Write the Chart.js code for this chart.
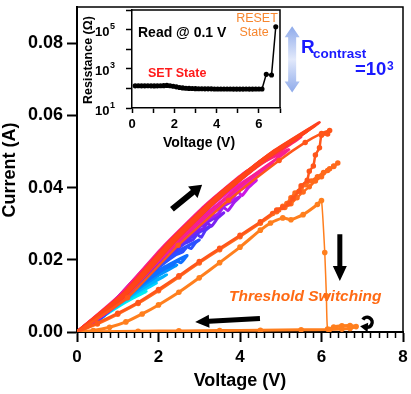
<!DOCTYPE html>
<html>
<head>
<meta charset="utf-8">
<script src="https://cdn.jsdelivr.net/npm/chart.js@4.4.1/dist/chart.umd.min.js"></script>
<style>
  html, body { margin: 0; padding: 0; background: #fff; }
  #wrap { position: relative; width: 411px; height: 394px; }
  #main { position: absolute; left: 0; top: 0; }
  #inset { position: absolute; left: 80px; top: 0; }
</style>
</head>
<body>
<div id="wrap">
  <canvas id="main" width="411" height="394"></canvas>
  <canvas id="inset" width="210" height="155"></canvas>
</div>
<script>
// ---- main I-V sweeps (voltage V, current A), out and back ----
const sweepColors = ['#00eef0', '#00d4ff', '#00b2ff', '#0092ff', '#1070ff', '#2c50ff', '#5234fa', '#7a22f2',
                     '#a41cee', '#cc18e4', '#ea1cc4', '#f8208e', '#ff2a62', '#ff2448', '#ff3c22', '#ff4418'];
const sweepV = [
  [0, 0.34, 0.68, 1.02, 1.36, 1.7, 1.36, 1.02, 0.68, 0.34, 0],
  [0, 0.39, 0.78, 1.17, 1.56, 1.95, 1.56, 1.17, 0.78, 0.39, 0],
  [0, 0.44, 0.88, 1.32, 1.76, 2.2, 1.76, 1.32, 0.88, 0.44, 0],
  [0, 0.49, 0.98, 1.47, 1.96, 2.45, 1.96, 1.47, 0.98, 0.49, 0],
  [0, 0.54, 1.08, 1.62, 2.16, 2.35, 2.45, 2.55, 2.7, 2.16, 1.62, 1.08, 0.54, 0],
  [0, 0.6, 1.2, 1.8, 2.4, 2.6, 2.7, 2.8, 2.9, 3.0, 2.4, 1.8, 1.2, 0.6, 0],
  [0, 0.66, 1.32, 1.98, 2.64, 2.85, 2.95, 3.05, 3.15, 3.3, 2.64, 1.98, 1.32, 0.66, 0],
  [0, 0.72, 1.44, 2.16, 2.88, 3.1, 3.2, 3.3, 3.45, 3.6, 2.88, 2.16, 1.44, 0.72, 0],
  [0, 0.8, 1.6, 2.4, 3.2, 3.45, 3.6, 3.7, 3.85, 4.0, 3.2, 2.4, 1.6, 0.8, 0],
  [0, 0.88, 1.76, 2.64, 3.52, 3.8, 3.95, 4.05, 4.2, 4.4, 3.52, 2.64, 1.76, 0.88, 0],
  [0, 0.96, 1.92, 2.88, 3.84, 4.8, 3.84, 2.88, 1.92, 0.96, 0],
  [0, 1.04, 2.08, 3.12, 4.16, 5.2, 4.16, 3.12, 2.08, 1.04, 0],
  [0, 1.1, 2.2, 3.3, 4.4, 5.5, 4.4, 3.3, 2.2, 1.1, 0],
  [0, 1.13, 2.26, 3.39, 4.52, 5.65, 4.52, 3.39, 2.26, 1.13, 0],
  [0, 1.19, 2.38, 3.57, 4.76, 5.95, 4.76, 3.57, 2.38, 1.19, 0],
  [0, 1.17, 2.34, 3.51, 4.68, 5.85, 4.68, 3.51, 2.34, 1.17, 0]
];
const sweepI = [
  [0, 0.0018, 0.0046, 0.0071, 0.0093, 0.0112, 0.0096, 0.0075, 0.0050, 0.0021, 0],
  [0, 0.0022, 0.0055, 0.0085, 0.0112, 0.0135, 0.0115, 0.0090, 0.0061, 0.0026, 0],
  [0, 0.0025, 0.0065, 0.0100, 0.0131, 0.0158, 0.0135, 0.0106, 0.0071, 0.0030, 0],
  [0, 0.0030, 0.0076, 0.0117, 0.0154, 0.0185, 0.0158, 0.0124, 0.0083, 0.0035, 0],
  [0, 0.0034, 0.0087, 0.0134, 0.0176, 0.0185, 0.0196, 0.0192, 0.0212, 0.0181, 0.0142, 0.0095, 0.0040, 0],
  [0, 0.0041, 0.0105, 0.0161, 0.0212, 0.0222, 0.0236, 0.0231, 0.0246, 0.0255, 0.0218, 0.0171, 0.0115, 0.0048, 0],
  [0, 0.0047, 0.0121, 0.0186, 0.0245, 0.0256, 0.0270, 0.0262, 0.0281, 0.0295, 0.0252, 0.0198, 0.0133, 0.0056, 0],
  [0, 0.0053, 0.0135, 0.0208, 0.0274, 0.0287, 0.0301, 0.0293, 0.0315, 0.0330, 0.0282, 0.0221, 0.0149, 0.0063, 0],
  [0, 0.0060, 0.0154, 0.0236, 0.0311, 0.0326, 0.0345, 0.0336, 0.0358, 0.0375, 0.0321, 0.0251, 0.0169, 0.0071, 0],
  [0, 0.0067, 0.0172, 0.0265, 0.0349, 0.0366, 0.0388, 0.0378, 0.0399, 0.0420, 0.0359, 0.0281, 0.0189, 0.0080, 0],
  [0, 0.0074, 0.0191, 0.0293, 0.0386, 0.0465, 0.0398, 0.0312, 0.0209, 0.0088, 0],
  [0, 0.0081, 0.0207, 0.0318, 0.0419, 0.0505, 0.0445, 0.0348, 0.0232, 0.0101, 0],
  [0, 0.0095, 0.0232, 0.0354, 0.0456, 0.0540, 0.0462, 0.0362, 0.0243, 0.0103, 0],
  [0, 0.0097, 0.0239, 0.0364, 0.0470, 0.0556, 0.0475, 0.0373, 0.0250, 0.0106, 0],
  [0, 0.0102, 0.0249, 0.0380, 0.0490, 0.0580, 0.0496, 0.0389, 0.0261, 0.0110, 0],
  [0, 0.0100, 0.0246, 0.0375, 0.0483, 0.0572, 0.0489, 0.0383, 0.0257, 0.0109, 0]
];

// orange sweeps near RESET
const orangeAV = [0, 1.24, 2.48, 3.72, 4.96, 5.6, 6.0, 6.2, 6.15, 6.0, 5.95, 5.85, 5.8, 5.7, 5.65, 5.5, 5.45, 5.3, 5.2, 5.05, 4.9,
                  4.5, 4.0, 3.5, 3.0, 2.5, 2.0, 1.5, 1.0, 0.5, 0];
const orangeAI = [0, 0.0095, 0.0240, 0.0365, 0.0475, 0.0525, 0.0550, 0.0558, 0.0548, 0.0545, 0.0510, 0.0490, 0.0460, 0.0445, 0.0420,
                  0.0405, 0.0390, 0.0370, 0.0355, 0.0345, 0.0338, 0.0305, 0.0268, 0.0232, 0.0195, 0.0156, 0.0118, 0.0082, 0.0052, 0.0025, 0];
const orangeBV = [0, 0.5, 1.0, 1.5, 2.0, 2.5, 3.0, 3.5, 4.0, 4.5, 4.9, 5.05, 5.15, 5.25, 5.35, 5.5, 5.6, 5.75, 5.9, 6.05, 6.2, 6.3, 6.4,
                  6.3, 6.15, 6.0, 5.85, 5.7, 5.55, 5.4, 5.25, 5.1, 4.95, 4.8];
const orangeBI = [0, 0.0022, 0.0049, 0.0079, 0.0114, 0.0152, 0.0191, 0.0228, 0.0264, 0.0301, 0.0333, 0.0348, 0.0356, 0.0372, 0.0385,
                  0.0398, 0.0408, 0.0418, 0.0430, 0.0442, 0.0452, 0.0460, 0.0468, 0.0458, 0.0447, 0.0430, 0.0418, 0.0402, 0.0388,
                  0.0372, 0.0355, 0.0345, 0.0338, 0.0328];
// threshold switching sweep
const orangeCV = [0, 0.4, 0.8, 1.2, 1.6, 2.0, 2.5, 3.0, 3.5, 4.0, 4.5, 4.75, 5.05, 5.25, 5.55, 5.9, 6.0, 6.08, 6.12, 6.15,
                  6.3, 6.5, 6.7, 6.85, 6.7, 6.5, 6.2, 5.5, 4.5, 3.5, 2.5, 1.5, 0.5, 0];
const orangeCI = [0, 0.0004, 0.0013, 0.0028, 0.0050, 0.0075, 0.0110, 0.0150, 0.0192, 0.0235, 0.0282, 0.0302, 0.0316, 0.0311, 0.0325,
                  0.0353, 0.0364, 0.0220, 0.0100, 0.0008, 0.0014, 0.0017, 0.0018, 0.0015, 0.0010, 0.0008, 0.0007, 0.0006, 0.0005,
                  0.0004, 0.0003, 0.0002, 0.0001, 0];

// ---- inset: resistance read at 0.1 V ----
const insetV = [0.15, 0.3, 0.45, 0.6, 0.75, 0.9, 1.05, 1.2, 1.35, 1.5, 1.65, 1.8, 1.95, 2.1, 2.25, 2.4, 2.55, 2.7, 2.85, 3.0,
                3.15, 3.3, 3.45, 3.6, 3.75, 3.9, 4.05, 4.2, 4.35, 4.5, 4.65, 4.8, 4.95, 5.1, 5.25, 5.4, 5.55, 5.7, 5.85, 6.0,
                6.15, 6.35, 6.6, 6.8];
const insetR = [135, 136, 135, 135, 136, 135, 134, 135, 136, 138, 142, 136, 128, 120, 112, 106, 102, 100, 98, 97,
                96, 96, 95, 95, 95, 94, 94, 94, 93, 93, 93, 92, 92, 92, 92, 93, 92, 92, 93, 93,
                94, 520, 480, 140000];
const insetYTicks = [10, 100, 1000, 10000, 100000, 1000000];
const insetYLabels = [[10, '1'], [1000, '3'], [100000, '5']];

const FONT = '"Liberation Sans", Arial, Helvetica, sans-serif';
Chart.defaults.color = '#000';

function pts(xs, ys) { return xs.map((v, k) => ({ x: v, y: ys[k] })); }

const datasets = [];
sweepV.forEach((xs, i) => {
  datasets.push({ data: pts(xs, sweepI[i]), borderColor: sweepColors[i], borderWidth: 3,
                  pointRadius: 0, tension: 0.15, order: -i });
});
datasets.push({ data: pts(orangeCV, orangeCI), borderColor: '#ff7f1e', backgroundColor: '#ff7f1e', borderWidth: 3,
                pointRadius: 1.3, tension: 0.15, order: -20,
                segment: { borderWidth: c => (c.p0DataIndex >= 16 && c.p0DataIndex < 19) ? 1.5 : 3 } });
datasets.push({ data: pts(orangeBV, orangeBI), borderColor: '#ff6a1c', backgroundColor: '#ff6a1c', borderWidth: 2.5,
                pointRadius: 1.5, tension: 0.15, order: -21 });
datasets.push({ data: pts(orangeAV, orangeAI), borderColor: '#ff561a', backgroundColor: '#ff561a', borderWidth: 2.5,
                pointRadius: 1.5, tension: 0.15, order: -22 });

function arrow(ctx, x1, y1, x2, y2, shaft, headW, headL) {
  const ang = Math.atan2(y2 - y1, x2 - x1), len = Math.hypot(x2 - x1, y2 - y1);
  ctx.save();
  ctx.translate(x1, y1); ctx.rotate(ang);
  ctx.beginPath();
  ctx.moveTo(0, -shaft / 2); ctx.lineTo(len - headL, -shaft / 2); ctx.lineTo(len - headL, -headW / 2);
  ctx.lineTo(len, 0); ctx.lineTo(len - headL, headW / 2); ctx.lineTo(len - headL, shaft / 2); ctx.lineTo(0, shaft / 2);
  ctx.closePath(); ctx.fill();
  ctx.restore();
}

const mainDecor = {
  id: 'mainDecor',
  afterDraw(chart) {
    const { ctx, chartArea: a, scales: { x, y } } = chart;
    ctx.save();
    ctx.strokeStyle = '#000';
    ctx.lineWidth = 1.5;
    ctx.beginPath(); ctx.moveTo(a.left, a.top); ctx.lineTo(a.right, a.top); ctx.lineTo(a.right, a.bottom); ctx.stroke();
    // minor ticks
    for (let i = 1; i < 40; i++) {
      if (i % 10 === 0) continue;
      const px = Math.round(x.getPixelForValue(i * 0.2)) + 0.5;
      ctx.beginPath(); ctx.moveTo(px, a.bottom); ctx.lineTo(px, a.bottom + 6); ctx.stroke();
    }
    // arrows
    ctx.fillStyle = '#000';
    arrow(ctx, x.getPixelForValue(2.33), y.getPixelForValue(0.034), x.getPixelForValue(3.07), y.getPixelForValue(0.0408), 6, 15, 12);
    arrow(ctx, x.getPixelForValue(6.45), y.getPixelForValue(0.0271), x.getPixelForValue(6.45), y.getPixelForValue(0.0141), 5, 14, 15);
    arrow(ctx, x.getPixelForValue(4.49), y.getPixelForValue(0.00375), x.getPixelForValue(2.9), y.getPixelForValue(0.0028), 5, 13, 14);
    // curly arrow
    const cx = x.getPixelForValue(7.12), cy = y.getPixelForValue(0.0027);
    ctx.lineWidth = 3.5;
    ctx.beginPath(); ctx.arc(cx, cy, 5, -2.6, 1.7); ctx.stroke();
    ctx.beginPath();
    ctx.moveTo(cx - 7, cy + 4); ctx.lineTo(cx + 1, cy + 0.5); ctx.lineTo(cx + 0.5, cy + 10); ctx.closePath(); ctx.fill();
    // R contrast double arrow
    const bx = x.getPixelForValue(5.28), t = y.getPixelForValue(0.0847), b = y.getPixelForValue(0.0663);
    const g = ctx.createLinearGradient(0, t, 0, b);
    g.addColorStop(0, '#8eaaea'); g.addColorStop(0.5, '#e2e9fb'); g.addColorStop(1, '#8eaaea');
    ctx.fillStyle = g;
    ctx.beginPath();
    ctx.moveTo(bx, t); ctx.lineTo(bx + 7.5, t + 11); ctx.lineTo(bx + 4, t + 11); ctx.lineTo(bx + 4, b - 11);
    ctx.lineTo(bx + 7.5, b - 11); ctx.lineTo(bx, b); ctx.lineTo(bx - 7.5, b - 11); ctx.lineTo(bx - 4, b - 11);
    ctx.lineTo(bx - 4, t + 11); ctx.lineTo(bx - 7.5, t + 11); ctx.closePath(); ctx.fill();
    // texts
    ctx.textBaseline = 'alphabetic';
    ctx.textAlign = 'left';
    ctx.fillStyle = '#1a1aff';
    ctx.font = 'bold 19px ' + FONT; ctx.fillText('R', 301, 53);
    ctx.font = 'bold 13.5px ' + FONT; ctx.fillText('contrast', 313, 58);
    ctx.font = 'bold 18.5px ' + FONT; ctx.fillText('=10', 355, 75);
    ctx.font = 'bold 12px ' + FONT; ctx.fillText('3', 387, 70);
    ctx.fillStyle = '#ff6a14';
    ctx.font = 'italic bold 15.5px ' + FONT; ctx.fillText('Threshold Switching', 229, 301);
    ctx.fillStyle = '#000';
    ctx.font = 'bold 18px ' + FONT;
    ctx.textAlign = 'center'; ctx.textBaseline = 'middle';
    ctx.fillText('Voltage (V)', 240, 381);
    ctx.save(); ctx.translate(10, 170); ctx.rotate(-Math.PI / 2); ctx.fillText('Current (A)', 0, 0); ctx.restore();
    ctx.restore();
  }
};

new Chart(document.getElementById('main'), {
  type: 'line',
  data: { datasets },
  options: {
    responsive: false, animation: false, devicePixelRatio: 1,
    layout: { padding: { top: 3, right: 8, left: 0, bottom: 0 } },
    plugins: { legend: { display: false }, tooltip: { enabled: false } },
    scales: {
      x: {
        type: 'linear', min: 0, max: 8,
        ticks: { stepSize: 2, padding: 5, maxRotation: 0, font: { family: FONT, size: 17, weight: 'bold' }, color: '#000' },
        grid: { drawOnChartArea: false, tickLength: 10, tickColor: '#000', tickWidth: 2 },
        border: { color: '#000', width: 2 },
        afterFit(s) { s.height = 62; s.paddingLeft = 0; s.paddingRight = 0; }
      },
      y: {
        min: 0, max: 0.09,
        ticks: { stepSize: 0.02, includeBounds: false, padding: 4, callback: v => v.toFixed(2),
                 font: { family: FONT, size: 18, weight: 'bold' }, color: '#000' },
        grid: { drawOnChartArea: false, tickLength: 10, tickColor: '#000', tickWidth: 2 },
        border: { color: '#000', width: 2 },
        afterFit(s) { s.width = 77; s.paddingTop = 0; s.paddingBottom = 0; }
      }
    }
  },
  plugins: [mainDecor]
});

const insetDecor = {
  id: 'insetDecor',
  afterDraw(chart) {
    const { ctx, chartArea: a, scales: { y } } = chart;
    ctx.save();
    ctx.strokeStyle = '#000'; ctx.lineWidth = 1.5;
    ctx.beginPath(); ctx.moveTo(a.left, a.top); ctx.lineTo(a.right, a.top); ctx.lineTo(a.right, a.bottom); ctx.stroke();
    ctx.fillStyle = '#000'; ctx.textAlign = 'right'; ctx.textBaseline = 'alphabetic';
    insetYLabels.forEach(([val, exp]) => {
      const py = y.getPixelForValue(val);
      ctx.font = 'bold 9px ' + FONT;
      ctx.fillText(exp, 35, py - 0.5);
      const w = ctx.measureText(exp).width;
      ctx.font = 'bold 13px ' + FONT;
      ctx.fillText('10', 35 - w - 0.5, py + 6.5);
    });
    ctx.textAlign = 'left';
    ctx.font = 'bold 14px ' + FONT; ctx.fillText('Read @ 0.1 V', 58, 37);
    ctx.fillStyle = '#ff1a1a';
    ctx.font = 'bold 12.5px ' + FONT; ctx.fillText('SET State', 68, 77);
    ctx.fillStyle = '#f7862e'; ctx.textAlign = 'center';
    ctx.font = '12.5px ' + FONT; ctx.fillText('RESET', 177, 22); ctx.fillText('State', 174, 36);
    ctx.fillStyle = '#000'; ctx.textBaseline = 'middle';
    ctx.font = 'bold 14px ' + FONT; ctx.fillText('Voltage (V)', 119, 143);
    ctx.font = 'bold 12.5px ' + FONT;
    ctx.save(); ctx.translate(9, 60); ctx.rotate(-Math.PI / 2); ctx.fillText('Resistance (\u03A9)', 0, 0); ctx.restore();
    ctx.restore();
  }
};

new Chart(document.getElementById('inset'), {
  type: 'line',
  data: { datasets: [{ data: pts(insetV, insetR), borderColor: '#000', backgroundColor: '#000', borderWidth: 1.5,
                       pointRadius: 1.8, tension: 0 }] },
  options: {
    responsive: false, animation: false, devicePixelRatio: 1,
    layout: { padding: { top: 10, right: 10, left: 0, bottom: 0 } },
    plugins: { legend: { display: false }, tooltip: { enabled: false } },
    scales: {
      x: {
        type: 'linear', min: 0, max: 7,
        ticks: { stepSize: 1, autoSkip: false, padding: 4, maxRotation: 0, callback: v => (v % 2 === 0 ? v : ''),
                 font: { family: FONT, size: 13, weight: 'bold' }, color: '#000' },
        grid: { drawOnChartArea: false, tickLength: 5, tickColor: '#000', tickWidth: 1.5 },
        border: { color: '#000', width: 1.5 },
        afterFit(s) { s.height = 47; s.paddingLeft = 0; s.paddingRight = 0; }
      },
      y: {
        type: 'logarithmic', min: 10, max: 1000000,
        afterBuildTicks(s) { s.ticks = insetYTicks.map(v => ({ value: v })); },
        ticks: { display: false },
        grid: { drawOnChartArea: false, tickLength: 6, tickColor: '#000', tickWidth: 1.5 },
        border: { color: '#000', width: 1.5 },
        afterFit(s) { s.width = 52; s.paddingTop = 0; s.paddingBottom = 0; }
      }
    }
  },
  plugins: [insetDecor]
});
</script>
</body>
</html>
